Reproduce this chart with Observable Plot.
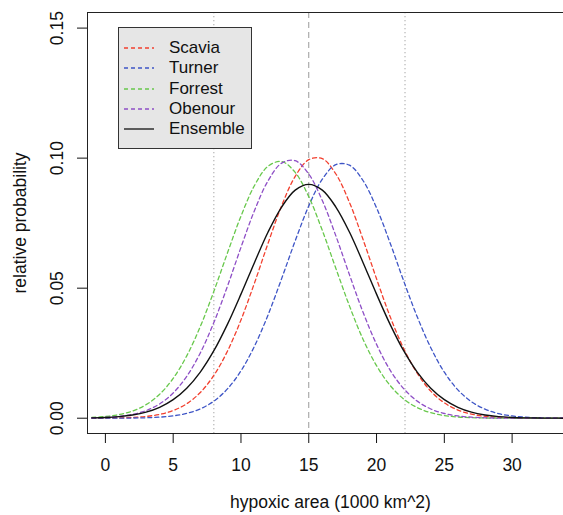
<!DOCTYPE html>
<html>
<head>
<meta charset="utf-8">
<script src="https://cdn.jsdelivr.net/npm/d3@7"></script>
<script src="https://cdn.jsdelivr.net/npm/@observablehq/plot@0.6"></script>
<style>
  body { margin: 0; background: #fff; }
  #wrap { position: relative; width: 563px; height: 515px; font-family: "Liberation Sans", Arial, sans-serif; }
  #legend { position: absolute; left: 118px; top: 27px; width: 134px; height: 122px; background: #e6e6e6; border: 1px solid #333; box-sizing: border-box; padding-top: 10px; }
  .row { position: relative; height: 20.3px; }
  .row svg { position: absolute; left: 4px; top: 8px; }
  .row span { position: absolute; left: 50px; top: 0; font-size: 17px; line-height: 20px; color: #111; }
</style>
</head>
<body>
<div id="wrap"><div id="chart"></div><div id="legend"></div></div>
<script>
// ---- data ----
const seriesNames = ["Scavia", "Turner", "Forrest", "Obenour", "Ensemble"];
const seriesColors = ["#f2402f", "#3e55c6", "#68c84c", "#8e4fc6", "#111111"];
const seriesDash = ["4,3", "4,3", "4,3", "4,3", null];

const xValues = [-1, 0, 1, 2, 3, 4, 5, 6, 7, 8, 9, 10, 11, 12, 13, 14, 15, 16, 17, 18,
  19, 20, 21, 22, 23, 24, 25, 26, 27, 28, 29, 30, 31, 32, 33, 34];

const scavia = [0.00002, 0.00005, 0.00012, 0.00030, 0.00068, 0.00146, 0.00294, 0.00556, 0.00988, 0.01646,
  0.02574, 0.03779, 0.05205, 0.0673, 0.0817, 0.0930, 0.0994, 0.0998, 0.0939, 0.0830,
  0.0688, 0.0536, 0.0391, 0.0268, 0.0173, 0.0104, 0.0059, 0.00314, 0.00157, 0.00073,
  0.00032, 0.00013, 0.00005, 0.00002, 0.00001, 0];
const turner = [0, 0.00001, 0.00003, 0.00007, 0.00018, 0.00041, 0.00090, 0.00185, 0.00359, 0.00654,
  0.01126, 0.01821, 0.02772, 0.03976, 0.05368, 0.0682, 0.0816, 0.0919, 0.0975, 0.0973,
  0.0914, 0.0809, 0.0674, 0.0528, 0.0390, 0.0271, 0.0177, 0.0109, 0.00633, 0.00346,
  0.00177, 0.00086, 0.00039, 0.00017, 0.00007, 0.00003];
const forrest = [0.00029, 0.00065, 0.00139, 0.00277, 0.00521, 0.00921, 0.01532, 0.02396, 0.03524, 0.04878,
  0.0635, 0.0777, 0.0895, 0.0969, 0.0987, 0.0945, 0.0852, 0.0722, 0.0576, 0.0432,
  0.0304, 0.0202, 0.0126, 0.00739, 0.00408, 0.00212, 0.00103, 0.00047, 0.00020, 0.00008,
  0.00003, 0.00001, 0, 0, 0, 0];
const obenour = [0.00013, 0.00030, 0.00069, 0.00146, 0.00292, 0.00549, 0.00970, 0.0161, 0.0251, 0.0368,
  0.0507, 0.0657, 0.0799, 0.0913, 0.0981, 0.0990, 0.0939, 0.0837, 0.0701, 0.0552,
  0.0408, 0.0284, 0.0185, 0.0114, 0.00656, 0.00355, 0.00181, 0.00087, 0.00039, 0.00016,
  0.00006, 0.00002, 0, 0, 0, 0];
const ensemble = [0.00014, 0.00030, 0.00062, 0.00124, 0.00233, 0.00418, 0.00712, 0.01153, 0.01774, 0.02595,
  0.0361, 0.0477, 0.0599, 0.0716, 0.0812, 0.0877, 0.0899, 0.0877, 0.0812, 0.0716,
  0.0599, 0.0477, 0.0361, 0.02595, 0.01774, 0.01153, 0.00712, 0.00418, 0.00233, 0.00124,
  0.00062, 0.00030, 0.00014, 0.00006, 0.00002, 0.00001];

const dottedRefs = [8, 22.1];
const dashedRefs = [15];

const xTicks = [0, 5, 10, 15, 20, 25, 30];
const yTicks = [0, 0.05, 0.10, 0.15];
const yTickLabels = ["0.00", "0.05", "0.10", "0.15"];
const xTitle = "hypoxic area (1000 km^2)";
const yTitle = "relative probability";

const xDomain = [-1.32, 33.79];
const yDomain = [-0.00588, 0.156];

// ---- build ----
const allValues = [scavia, turner, forrest, obenour, ensemble];
const rows = seriesNames.map((name, i) => xValues.map((x, j) => ({ series: name, x, y: allValues[i][j] })));

const lineMarks = rows.map((r, i) => Plot.line(r, {
  x: "x", y: "y", stroke: seriesColors[i],
  strokeWidth: i === 4 ? 1.4 : 1.3,
  strokeDasharray: seriesDash[i] || undefined,
  curve: "catmull-rom", clip: true
}));

const FS = 17.5;
const chart = Plot.plot({
  width: 563, height: 515,
  marginLeft: 87, marginRight: 0, marginTop: 12, marginBottom: 82,
  x: { domain: xDomain },
  y: { domain: yDomain },
  style: { fontFamily: "'Liberation Sans', Arial, sans-serif", fontSize: FS + "px", background: "white", color: "#111" },
  marks: [
    Plot.ruleX(dottedRefs, { x: d => d, stroke: "#a6a6a6", strokeDasharray: "1.3,2.7" }),
    Plot.ruleX(dashedRefs, { x: d => d, stroke: "#9a9a9a", strokeDasharray: "6,4" }),
    ...lineMarks,
    Plot.ruleY([yDomain[1], yDomain[0]], { y: d => d, stroke: "#222" }),
    Plot.ruleX([xDomain[0]], { x: d => d, stroke: "#222" }),
    Plot.axisX({ ticks: xTicks, tickSize: 10, tickPadding: 15, tickFormat: d => String(d), label: null, fontSize: FS }),
    Plot.axisY({ ticks: yTicks, tickSize: 10, tickFormat: () => "", label: null }),
    Plot.text(yTicks, { y: d => d, text: (d, i) => yTickLabels[i], frameAnchor: "left", textAnchor: "middle", lineAnchor: "middle", dx: -30, rotate: -90, fontSize: FS }),
    Plot.text([yTitle], { text: d => d, frameAnchor: "left", textAnchor: "middle", lineAnchor: "middle", dx: -67, rotate: -90, fontSize: FS }),
    Plot.text([xTitle], { text: d => d, frameAnchor: "bottom", textAnchor: "middle", lineAnchor: "middle", dy: 69, dx: 5, fontSize: FS })
  ]
});
document.getElementById("chart").appendChild(chart);

// ---- legend ----
const legend = document.getElementById("legend");
seriesNames.forEach((name, i) => {
  const row = document.createElement("div");
  row.className = "row";
  row.innerHTML = `<svg width="32" height="4"><line x1="1" y1="2" x2="31" y2="2" stroke="${seriesColors[i]}" stroke-width="1.3" ${seriesDash[i] ? `stroke-dasharray="${seriesDash[i]}"` : ""}/></svg><span>${name}</span>`;
  legend.appendChild(row);
});
</script>
</body>
</html>
